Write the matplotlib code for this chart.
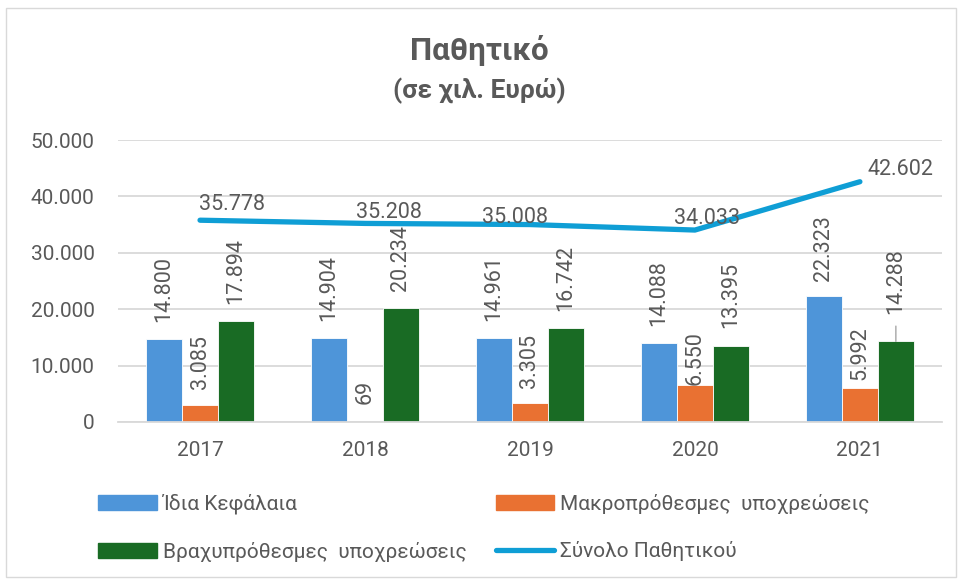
import numpy as np
import matplotlib.pyplot as plt
from matplotlib.patches import Rectangle
from matplotlib.lines import Line2D

plt.rcParams['font.family'] = ['Roboto', 'DejaVu Sans']

years = ['2017', '2018', '2019', '2020', '2021']
equity = [14800, 14904, 14961, 14088, 22323]
long_term = [3085, 69, 3305, 6550, 5992]
short_term = [17894, 20234, 16742, 13395, 14288]
total = [35778, 35208, 35008, 34033, 42602]

series_names = ['Ίδια Κεφάλαια', 'Μακροπρόθεσμες  υποχρεώσεις',
                'Βραχυπρόθεσμες  υποχρεώσεις', 'Σύνολο Παθητικού']

c_blue = '#4e95d9'
c_orange = '#e97132'
c_green = '#196b24'
c_line = '#0f9ed5'
c_text = '#595959'
c_grid = '#d9d9d9'

def fmt(v):
    return f'{v:,}'.replace(',', '.')

fig = plt.figure(figsize=(9.58, 5.79), dpi=100)
fig.patches.append(Rectangle((0.006, 0.003), 0.992, 0.983, transform=fig.transFigure,
                             fill=False, edgecolor='#d9d9d9', linewidth=1))
ax = fig.add_axes([0.1227, 0.2712, 0.861, 0.487])

x = np.arange(len(years))
w = 0.218
bars = []
for i, (vals, col) in enumerate([(equity, c_blue), (long_term, c_orange), (short_term, c_green)]):
    b = ax.bar(x + (i - 1) * w, vals, w, color=col, edgecolor='white', linewidth=0.6, zorder=2)
    bars.append(b)

# value labels above the bars (extra lift in points for crowded ones)
lift = [[12, 12, 12, 12, 11],
        [11, 13, 11, 0, 6],
        [12, 12, 12, 13, 20]]
for b, vals, lf in zip(bars, [equity, long_term, short_term], lift):
    for rect, v, l in zip(b, vals, lf):
        cx = rect.get_x() + rect.get_width() / 2
        ax.annotate(fmt(v), (cx, v), xytext=(0, l), textcoords='offset points',
                    rotation=90, ha='center', va='bottom', fontsize=15.5, color=c_text, zorder=4)

# leader line for the last short-term label
r = bars[2][4]
ax.annotate('', (r.get_x() + r.get_width() / 2, short_term[4]), xytext=(0, 11),
            textcoords='offset points',
            arrowprops=dict(arrowstyle='-', color='#a6a6a6', lw=1, shrinkA=0, shrinkB=0))

ax.plot(x, total, color=c_line, linewidth=3.8, solid_capstyle='round', zorder=3)
line_off = [(23, 11), (17, 8), (-11, 5), (9, 8), (29, 8.5)]
for xi, v, (dx, dy) in zip(x, total, line_off):
    ax.annotate(fmt(v), (xi, v), xytext=(dx, dy), textcoords='offset points',
                ha='center', va='center', fontsize=15.5, color=c_text, zorder=4)

ax.set_xlim(-0.5, 4.5)
ax.set_ylim(0, 50000)
ax.set_yticks(range(0, 50001, 10000))
ax.set_yticklabels([fmt(t) for t in range(0, 50001, 10000)])
ax.set_xticks(x)
ax.set_xticklabels(years)
ax.tick_params(length=0, labelsize=15, labelcolor=c_text)
ax.tick_params(axis='y', pad=16.5)
ax.tick_params(axis='x', pad=14)
ax.grid(axis='y', color=c_grid, linewidth=1.3, zorder=0)
ax.set_axisbelow(True)
for s in ['top', 'right', 'left']:
    ax.spines[s].set_visible(False)
ax.spines['bottom'].set_color(c_grid)
ax.spines['bottom'].set_linewidth(1.3)

fig.text(0.5, 0.912, 'Παθητικό', ha='center', va='center', fontsize=22.5,
         fontweight='bold', color=c_text)
fig.text(0.5, 0.843, '(σε χιλ. Ευρώ)', ha='center', va='center', fontsize=19,
         fontweight='bold', color=c_text)

handles = [Rectangle((0, 0), 1, 1, color=c_blue), Rectangle((0, 0), 1, 1, color=c_orange),
           Rectangle((0, 0), 1, 1, color=c_green),
           Line2D([0], [0], color=c_line, linewidth=3.8, solid_capstyle='round')]
# legend fills column by column, so order the entries to read row by row
order = [0, 2, 1, 3]
leg = fig.legend([handles[i] for i in order], [series_names[i] for i in order], ncol=2,
                 loc='upper left', bbox_to_anchor=(0.083, 0.18),
                 frameon=False, fontsize=15, handlelength=2.8, handleheight=0.7,
                 handletextpad=0.3, columnspacing=1.4, labelspacing=1.33)
for t in leg.get_texts():
    t.set_color(c_text)

fig.savefig('out.png', dpi=100)
